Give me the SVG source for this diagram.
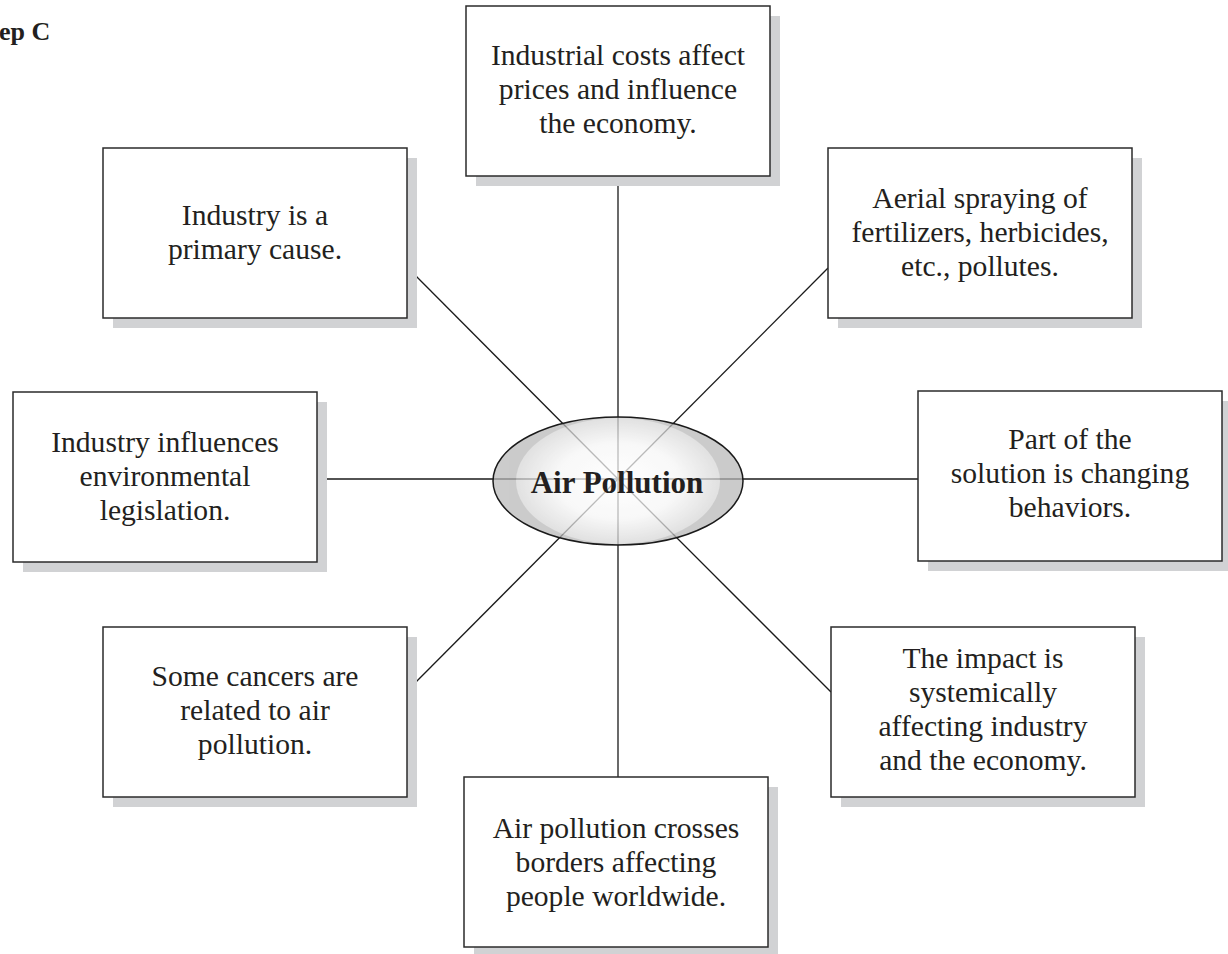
<svg xmlns="http://www.w3.org/2000/svg" width="1228" height="954" viewBox="0 0 1228 954">
<style>
  .shadow{fill:#d1d2d4;}
  .box{fill:#ffffff;stroke:#2b2b2b;stroke-width:1.5;}
  .t{font-family:"Liberation Serif","Times New Roman",serif;font-size:29.6px;fill:#231f20;text-anchor:middle;}
  .title{font-family:"Liberation Serif","Times New Roman",serif;font-size:31px;font-weight:bold;fill:#231f20;text-anchor:middle;}
  .step{font-family:"Liberation Serif","Times New Roman",serif;font-size:26px;font-weight:bold;fill:#231f20;}
  .conn line{stroke:#1a1a1a;stroke-width:1.3;}
</style>
<defs>
  <radialGradient id="inner" cx="0.5" cy="0.5" r="0.5">
    <stop offset="0" stop-color="#ffffff"/>
    <stop offset="0.6" stop-color="#f6f6f6"/>
    <stop offset="1" stop-color="#d6d6d6"/>
  </radialGradient>
</defs>
<rect width="1228" height="954" fill="#ffffff"/>
<text class="step" x="-1" y="40">ep C</text>

<g id="connectors" class="conn">
  <line x1="618" y1="479" x2="618" y2="176"/>
  <line x1="618" y1="479" x2="407" y2="267"/>
  <line x1="618" y1="479" x2="828" y2="268"/>
  <line x1="618" y1="479" x2="316" y2="479"/>
  <line x1="618" y1="479" x2="918" y2="479"/>
  <line x1="618" y1="479" x2="407" y2="691"/>
  <line x1="618" y1="479" x2="831" y2="692"/>
  <line x1="618" y1="479" x2="618" y2="777"/>
</g>

<g id="center">
  <g opacity="0.72">
    <ellipse cx="618" cy="481" rx="125" ry="64" fill="#b8b8b8"/>
    <ellipse cx="618" cy="481" rx="102" ry="63" fill="url(#inner)"/>
  </g>
  <ellipse cx="618" cy="481" rx="125" ry="64" fill="none" stroke="#1a1a1a" stroke-width="1.5"/>
  <text class="title" x="617" y="493">Air Pollution</text>
</g>

<g id="n-top">
  <rect class="shadow" x="476" y="16" width="304" height="170"/>
  <rect class="box" x="466" y="6" width="304" height="170"/>
  <text class="t" x="618" y="65">Industrial costs affect</text>
  <text class="t" x="618" y="99">prices and influence</text>
  <text class="t" x="618" y="133">the economy.</text>
</g>

<g id="n-upper-left">
  <rect class="shadow" x="113" y="158" width="304" height="170"/>
  <rect class="box" x="103" y="148" width="304" height="170"/>
  <text class="t" x="255" y="225">Industry is a</text>
  <text class="t" x="255" y="259">primary cause.</text>
</g>

<g id="n-upper-right">
  <rect class="shadow" x="838" y="158" width="304" height="170"/>
  <rect class="box" x="828" y="148" width="304" height="170"/>
  <text class="t" x="980" y="208">Aerial spraying of</text>
  <text class="t" x="980" y="242">fertilizers, herbicides,</text>
  <text class="t" x="980" y="276">etc., pollutes.</text>
</g>

<g id="n-left">
  <rect class="shadow" x="23" y="402" width="304" height="170"/>
  <rect class="box" x="13" y="392" width="304" height="170"/>
  <text class="t" x="165" y="452">Industry influences</text>
  <text class="t" x="165" y="486">environmental</text>
  <text class="t" x="165" y="520">legislation.</text>
</g>

<g id="n-right">
  <rect class="shadow" x="928" y="401" width="304" height="170"/>
  <rect class="box" x="918" y="391" width="304" height="170"/>
  <text class="t" x="1070" y="449">Part of the</text>
  <text class="t" x="1070" y="483">solution is changing</text>
  <text class="t" x="1070" y="517">behaviors.</text>
</g>

<g id="n-lower-left">
  <rect class="shadow" x="113" y="637" width="304" height="170"/>
  <rect class="box" x="103" y="627" width="304" height="170"/>
  <text class="t" x="255" y="686">Some cancers are</text>
  <text class="t" x="255" y="720">related to air</text>
  <text class="t" x="255" y="754">pollution.</text>
</g>

<g id="n-lower-right">
  <rect class="shadow" x="841" y="637" width="304" height="170"/>
  <rect class="box" x="831" y="627" width="304" height="170"/>
  <text class="t" x="983" y="668">The impact is</text>
  <text class="t" x="983" y="702">systemically</text>
  <text class="t" x="983" y="736">affecting industry</text>
  <text class="t" x="983" y="770">and the economy.</text>
</g>

<g id="n-bottom">
  <rect class="shadow" x="474" y="787" width="304" height="170"/>
  <rect class="box" x="464" y="777" width="304" height="170"/>
  <text class="t" x="616" y="838">Air pollution crosses</text>
  <text class="t" x="616" y="872">borders affecting</text>
  <text class="t" x="616" y="906">people worldwide.</text>
</g>
</svg>
